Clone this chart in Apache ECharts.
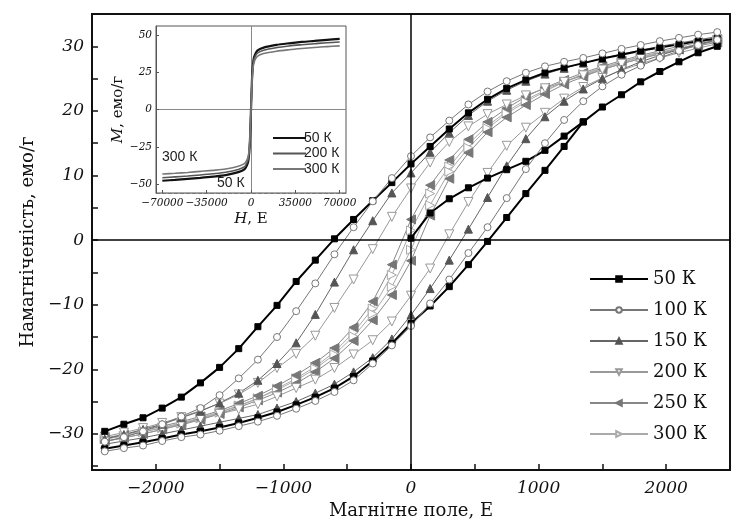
<!DOCTYPE html>
<html>
<head>
<meta charset="utf-8">
<script src="https://cdn.jsdelivr.net/npm/echarts@6/dist/echarts.min.js"></script>
<style>
html, body { margin: 0; padding: 0; background: #fff; }
#chart { width: 733px; height: 525px; }
</style>
</head>
<body>
<div id="chart"></div>
<script>
// поле, Е (крок вимірювання 150 Е)
var fieldOe = [-2400, -2250, -2100, -1950, -1800, -1650, -1500, -1350, -1200, -1050, -900, -750, -600, -450, -300, -150,
    0, 150, 300, 450, 600, 750, 900, 1050, 1200, 1350, 1500, 1650, 1800, 1950, 2100, 2250, 2400];

// спадні (desc) та зростаючі (asc) гілки петель, емо/г
var desc50 = [-29.6, -28.5, -27.5, -26.0, -24.3, -22.1, -19.7, -16.8, -13.4, -10.1, -6.4, -3.1, 0.2, 3.2, 6.1, 8.9,
    11.8, 14.5, 17.2, 19.7, 21.8, 23.5, 24.8, 25.9, 26.7, 27.4, 28.1, 28.7, 29.3, 29.8, 30.3, 30.8, 31.2];
var asc50 = [-32.3, -31.8, -31.3, -30.7, -30.1, -29.6, -29.0, -28.3, -27.5, -26.6, -25.5, -24.3, -22.9, -21.1, -18.7, -16.0,
    -12.9, -10.2, -7.2, -3.8, -0.2, 3.5, 7.2, 10.8, 14.5, 18.3, 20.6, 22.5, 24.5, 26.1, 27.6, 29.0, 30.0];
var virginField = [0, 150, 300, 450, 600, 750, 900, 1050, 1200, 1350];
var virgin50 = [0.3, 4.2, 6.4, 8.1, 9.6, 10.9, 12.2, 13.9, 16.1, 18.3];

var desc100 = [-31.2, -30.5, -29.6, -28.5, -27.3, -26.0, -24.0, -21.4, -18.5, -15.0, -11.0, -6.7, -2.2, 2.0, 6.0, 9.6,
    13.0, 15.9, 18.5, 21.0, 23.0, 24.6, 25.9, 26.9, 27.6, 28.2, 28.9, 29.6, 30.2, 30.8, 31.3, 31.8, 32.2];
var asc100 = [-32.7, -32.2, -31.8, -31.1, -30.5, -30.1, -29.5, -28.8, -28.1, -27.2, -26.1, -24.9, -23.5, -21.7, -19.1, -16.3,
    -13.3, -9.8, -6.1, -2.0, 2.0, 6.5, 11.0, 15.0, 18.6, 21.5, 23.8, 25.6, 27.0, 28.2, 29.3, 30.2, 31.0];

var desc150 = [-30.8, -30.1, -29.3, -28.5, -27.5, -26.5, -25.2, -23.7, -21.7, -19.1, -15.9, -11.5, -6.5, -1.5, 3.0, 7.3,
    10.4, 13.6, 16.6, 19.3, 21.5, 23.2, 24.6, 25.7, 26.6, 27.4, 28.1, 28.8, 29.4, 30.0, 30.5, 31.0, 31.5];
var asc150 = [-31.6, -31.1, -30.6, -30.0, -29.4, -28.8, -28.2, -27.6, -27.0, -26.0, -25.0, -23.7, -22.3, -20.4, -18.2, -15.3,
    -11.6, -7.5, -3.1, 1.7, 6.6, 11.5, 15.7, 19.1, 21.5, 23.4, 25.0, 26.4, 27.6, 28.6, 29.5, 30.3, 31.0];

var desc200 = [-30.4, -29.8, -29.1, -28.3, -27.4, -26.4, -25.3, -23.9, -22.1, -19.8, -17.6, -14.8, -10.5, -6.1, -1.4, 3.6,
    8.0, 12.0, 15.2, 17.6, 19.5, 21.0, 22.4, 23.5, 24.5, 25.5, 26.4, 27.3, 28.1, 28.9, 29.6, 30.3, 31.0];
var asc200 = [-31.2, -30.6, -30.0, -29.3, -28.5, -27.7, -26.9, -26.2, -25.4, -24.2, -22.9, -21.6, -19.8, -17.7, -15.5, -12.6,
    -8.6, -4.4, 0.9, 5.9, 10.4, 14.6, 17.4, 19.7, 21.9, 23.7, 25.1, 26.3, 27.3, 28.2, 29.0, 29.7, 30.4];

var desc250 = [-30.6, -30.1, -29.5, -28.8, -28.1, -27.3, -26.4, -25.3, -24.1, -22.6, -20.9, -19.0, -16.7, -13.5, -9.5, -3.8,
    3.2, 8.5, 12.4, 15.6, 18.3, 20.4, 22.2, 23.6, 24.8, 25.9, 26.9, 27.8, 28.6, 29.3, 30.0, 30.6, 31.1];
var asc250 = [-31.1, -30.6, -30.0, -29.3, -28.6, -27.8, -26.9, -25.9, -24.8, -23.6, -22.2, -20.4, -18.3, -15.6, -12.4, -8.5,
    -3.2, 3.8, 9.5, 13.5, 16.7, 19.0, 20.9, 22.6, 24.1, 25.3, 26.4, 27.3, 28.1, 28.8, 29.5, 30.1, 30.6];

var desc300 = [-30.8, -30.3, -29.7, -29.1, -28.4, -27.6, -26.7, -25.7, -24.5, -23.0, -21.4, -19.6, -17.3, -14.3, -10.6, -5.4,
    1.5, 7.2, 11.4, 14.9, 17.7, 19.9, 21.7, 23.2, 24.5, 25.6, 26.6, 27.5, 28.3, 29.0, 29.7, 30.3, 30.8];
var asc300 = [-30.8, -30.3, -29.7, -29.0, -28.3, -27.5, -26.6, -25.6, -24.5, -23.2, -21.7, -19.9, -17.7, -14.9, -11.4, -7.2,
    -1.5, 5.4, 10.6, 14.3, 17.3, 19.6, 21.4, 23.0, 24.5, 25.7, 26.7, 27.6, 28.4, 29.1, 29.7, 30.3, 30.8];

// вставка: повні криві до 70000 Е
var insetField = [-70000, -60000, -50000, -40000, -30000, -20000, -10000, -5000, -3000, -2000, -1000, 0,
    1000, 2000, 3000, 5000, 10000, 20000, 30000, 40000, 50000, 60000, 70000];
var inset50 = [-47.8, -47.2, -46.5, -45.8, -45.0, -44.0, -42.0, -40.0, -37.0, -34.0, -24.0, 0,
    24.0, 33.5, 36.5, 39.5, 41.5, 43.3, 44.4, 45.3, 46.0, 46.7, 47.3];
var inset200 = [-45.8, -45.2, -44.6, -43.9, -43.1, -42.1, -40.2, -38.3, -35.4, -32.6, -23.0, 0,
    23.0, 32.1, 35.0, 37.8, 39.8, 41.5, 42.6, 43.4, 44.1, 44.8, 45.3];
var inset300 = [-43.3, -42.8, -42.2, -41.5, -40.8, -39.9, -38.1, -36.2, -33.5, -30.8, -21.7, 0,
    21.7, 30.3, 33.0, 35.7, 37.5, 39.1, 40.1, 40.9, 41.6, 42.2, 42.7];

var temps = ['50 К', '100 К', '150 К', '200 К', '250 К', '300 К'];
var mainTicksY = [-35, -30, -25, -20, -15, -10, -5, 0, 5, 10, 15, 20, 25, 30];
var mainLabelsY = [-30, -20, -10, 0, 10, 20, 30];
var insetLabelsX = [-70000, -35000, 0, 35000, 70000];
var insetLabelsY = [-50, -25, 0, 25, 50];

var dom = document.getElementById('chart');
var myChart = echarts.init(dom);

function pairs(xs, ys) {
    return ys.map(function (y, i) { return [xs[i], y]; });
}
function minus(v) {
    return v < 0 ? '\u2212' + Math.abs(v) : String(v);
}

var serif = 'DejaVu Serif';
var looks = {
    '50 К':  {line: '#000', width: 2, symbol: 'rect', rotate: 0, size: 6, fill: '#000', border: '#000'},
    '100 К': {line: '#777', width: 1, symbol: 'circle', rotate: 0, size: 7, fill: '#fff', border: '#777'},
    '150 К': {line: '#666', width: 1, symbol: 'triangle', rotate: 0, size: 8, fill: '#555', border: '#555'},
    '200 К': {line: '#999', width: 1, symbol: 'triangle', rotate: 180, size: 9, fill: '#fff', border: '#999'},
    '250 К': {line: '#888', width: 1, symbol: 'triangle', rotate: 90, size: 9, fill: '#777', border: '#777'},
    '300 К': {line: '#aaa', width: 1, symbol: 'triangle', rotate: -90, size: 9, fill: '#fff', border: '#aaa'}
};

function branch(name, xs, ys) {
    var s = looks[name];
    return {
        name: name,
        type: 'line',
        xAxisIndex: 0,
        yAxisIndex: 0,
        data: pairs(xs, ys),
        symbol: s.symbol,
        symbolRotate: s.rotate,
        symbolSize: s.size,
        showAllSymbol: true,
        lineStyle: {color: s.line, width: s.width},
        itemStyle: {color: s.fill, borderColor: s.border, borderWidth: 1},
        emphasis: {disabled: true},
        z: 2
    };
}

var series = [];
series.push(branch('300 К', fieldOe, desc300));
series.push(branch('300 К', fieldOe, asc300));
series.push(branch('250 К', fieldOe, desc250));
series.push(branch('250 К', fieldOe, asc250));
series.push(branch('200 К', fieldOe, desc200));
series.push(branch('200 К', fieldOe, asc200));
series.push(branch('150 К', fieldOe, desc150));
series.push(branch('150 К', fieldOe, asc150));
series.push(branch('50 К', fieldOe, desc50));
series.push(branch('50 К', fieldOe, asc50));
series.push(branch('50 К', virginField, virgin50));
series.push(branch('100 К', fieldOe, desc100));
series.push(branch('100 К', fieldOe, asc100));

// нульові лінії основного графіка
series[0].markLine = {
    silent: true,
    symbol: 'none',
    label: {show: false},
    lineStyle: {color: '#000', width: 1.5, type: 'solid'},
    data: [{xAxis: 0}, {yAxis: 0}]
};

var insetLooks = [['i50', inset50, '#111', 2.2], ['i200', inset200, '#555', 1.6], ['i300', inset300, '#777', 1.6]];
insetLooks.forEach(function (d, k) {
    var s = {
        name: d[0],
        type: 'line',
        xAxisIndex: 1,
        yAxisIndex: 1,
        data: pairs(insetField, d[1]),
        symbol: 'none',
        smooth: 0.3,
        lineStyle: {color: d[2], width: d[3]},
        itemStyle: {color: d[2]},
        emphasis: {disabled: true},
        z: 6
    };
    if (k === 2) {
        s.markLine = {
            silent: true,
            symbol: 'none',
            label: {show: false},
            lineStyle: {color: '#888', width: 1, type: 'solid'},
            data: [{xAxis: 0}, {yAxis: 0}]
        };
    }
    series.push(s);
});

var insetNames = {i50: '50 К', i200: '200 К', i300: '300 К'};
var italic = {fontFamily: serif, fontStyle: 'italic', fontSize: 15, color: '#111'};

option = {
    animation: false,
    backgroundColor: '#fff',
    grid: [
        {left: 92, top: 14, right: -9, bottom: 48, show: true, borderColor: '#111', borderWidth: 2, z: 0},
        {left: 156, top: 26, width: 190, height: 167, show: true, backgroundColor: '#fff',
            borderColor: '#555', borderWidth: 1, z: 4}
    ],
    legend: [
        {
            data: temps,
            orient: 'vertical',
            left: 584,
            top: 264,
            itemWidth: 58,
            itemHeight: 7,
            itemGap: 11,
            selectedMode: false,
            textStyle: {fontFamily: serif, fontSize: 18, color: '#111', lineHeight: 20}
        },
        {
            data: ['i50', 'i200', 'i300'],
            orient: 'vertical',
            left: 268,
            top: 126,
            icon: 'rect',
            itemWidth: 33,
            itemHeight: 2,
            itemGap: 1.5,
            selectedMode: false,
            z: 6,
            formatter: function (n) { return insetNames[n]; },
            textStyle: {fontFamily: 'Liberation Sans', fontSize: 14, color: '#222', lineHeight: 14, padding: [0, 0, 0, -7]}
        }
    ],
    xAxis: [
        {
            gridIndex: 0, type: 'value', min: -2500, max: 2500, interval: 500,
            axisLine: {show: true, onZero: false, lineStyle: {color: '#111', width: 2}},
            axisTick: {show: true, inside: true, length: 6, lineStyle: {color: '#111', width: 1.5}},
            axisLabel: {
                formatter: function (v) { return v % 1000 === 0 ? minus(v) : ''; },
                fontFamily: serif, fontStyle: 'italic', fontSize: 17, color: '#111', margin: 10
            },
            splitLine: {show: false},
            name: 'Магнітне поле, Е', nameLocation: 'middle', nameGap: 27,
            nameTextStyle: {fontFamily: serif, fontSize: 18, color: '#111'}
        },
        {
            gridIndex: 1, type: 'value', min: -75000, max: 75000, z: 5,
            axisLine: {show: true, onZero: false, lineStyle: {color: '#777', width: 1, type: 'dashed'}},
            axisTick: {show: true, inside: true, length: 3, customValues: insetLabelsX, lineStyle: {color: '#555'}},
            axisLabel: {
                customValues: insetLabelsX, formatter: minus,
                fontFamily: serif, fontStyle: 'italic', fontSize: 10.5, color: '#111', margin: 5
            },
            splitLine: {show: false},
            name: '{i|H}, Е', nameLocation: 'middle', nameGap: 19,
            nameTextStyle: {fontFamily: serif, fontSize: 15, color: '#111', rich: {i: italic}}
        }
    ],
    yAxis: [
        {
            gridIndex: 0, type: 'value', min: -35.6, max: 35,
            axisLine: {show: true, onZero: false, lineStyle: {color: '#111', width: 2}},
            axisTick: {show: true, inside: true, length: 6, customValues: mainTicksY, lineStyle: {color: '#111', width: 1.5}},
            axisLabel: {
                customValues: mainLabelsY, formatter: minus,
                fontFamily: serif, fontStyle: 'italic', fontSize: 17, color: '#111', margin: 8
            },
            splitLine: {show: false},
            name: 'Намагніченість, емо/г', nameLocation: 'middle', nameGap: 47, nameRotate: 90,
            nameTextStyle: {fontFamily: serif, fontSize: 18, color: '#111'}
        },
        {
            gridIndex: 1, type: 'value', min: -56, max: 56, z: 5,
            axisLine: {show: true, onZero: false, lineStyle: {color: '#555', width: 1}},
            axisTick: {show: true, inside: true, length: 3, customValues: insetLabelsY, lineStyle: {color: '#555'}},
            axisLabel: {
                customValues: insetLabelsY, formatter: minus,
                fontFamily: serif, fontStyle: 'italic', fontSize: 10.5, color: '#111', margin: 4
            },
            splitLine: {show: false},
            name: '{i|M}, емо/г', nameLocation: 'middle', nameGap: 26, nameRotate: 90,
            nameTextStyle: {fontFamily: serif, fontSize: 15, color: '#111', rich: {i: italic}}
        }
    ],
    graphic: [
        {type: 'text', left: 162, top: 150, z: 10,
            style: {text: '300 К', font: '14px "Liberation Sans"', fill: '#222'}},
        {type: 'text', left: 217, top: 176, z: 10,
            style: {text: '50 К', font: '14px "Liberation Sans"', fill: '#222'}}
    ],
    series: series
};

if (option && typeof option === 'object') {
    myChart.setOption(option, true);
}
</script>
</body>
</html>
